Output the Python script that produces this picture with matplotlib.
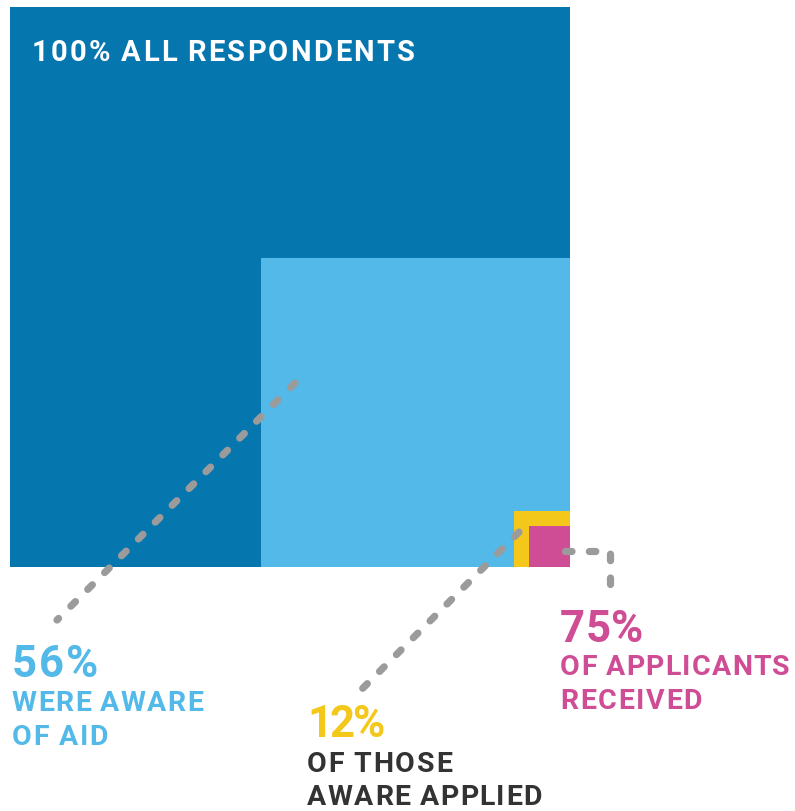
import matplotlib
matplotlib.use("Agg")
import matplotlib.pyplot as plt
from matplotlib.patches import Rectangle

# nested groups, outer to inner
percents = [100, 56, 12, 75]
captions = [["ALL RESPONDENTS"],
            ["WERE AWARE", "OF AID"],
            ["OF THOSE", "AWARE APPLIED"],
            ["OF APPLICANTS", "RECEIVED"]]
# side of each square as a share of the outer one, as drawn in the picture
sides = [1.0, 0.553, 0.101, 0.073]
colors = ["#0676AF", "#52B9E8", "#F4C81B", "#CF4D95"]
text_colors = ["white", "#52B9E8", "#333333", "#CF4D95"]
pct_colors = ["white", "#52B9E8", "#F4C81B", "#CF4D95"]

W, H = 795, 811
S = 560.0              # pixels per unit side
X0, Y0 = 10.3, 567.3   # bottom-left corner of the outer square, in pixels

fig = plt.figure(figsize=(W / 100, H / 100), dpi=100)
ax = fig.add_axes([0, 0, 1, 1])
ax.set_xlim(-X0 / S, (W - X0) / S)
ax.set_ylim(-(H - Y0) / S, Y0 / S)
ax.axis("off")

# squares share the bottom-right corner
for s, c in zip(sides, colors):
    ax.add_patch(Rectangle((1 - s, 0), s, s, facecolor=c, edgecolor="none"))


def p(x, y):
    # pixel position -> data
    return (x - X0) / S, (Y0 - y) / S


# dashed leader lines
leaders = [[(295, 383), (57, 620)],
           [(519, 532), (362, 689)],
           [(565, 551), (610, 551), (610, 588)]]
for pts in leaders:
    xs, ys = zip(*[p(*q) for q in pts])
    ax.plot(xs, ys, color="#9B9B9B", lw=5.2, dashes=(0.9, 2.4),
            dash_capstyle="round", dash_joinstyle="round")

renderer = fig.canvas.get_renderer()
FONT = "Roboto"


def label(x, y, s, size, color, weight, width):
    # letter-spaced text, stretched to the given pixel width
    xd, yd = p(x, y)
    items = []
    for ch in s:
        if ch == " ":
            items.append((None, size * 100 / 72 * 0.22))
            continue
        t = ax.text(xd, yd, ch, fontsize=size, color=color, fontweight=weight,
                    family=FONT, va="baseline", ha="left")
        items.append((t, t.get_window_extent(renderer).width))
    natural = sum(w for _, w in items)
    track = (width - natural) / max(len(items) - 1, 1)
    pos = xd
    for t, w in items:
        if t is not None:
            t.set_x(pos)
        pos += (w + track) / S


# title inside the outer square
label(31.5, 61, f"{percents[0]}% " + captions[0][0], 21, "white", "bold", 383)

# outside labels: x, baseline of percent, percent width, caption baselines, caption widths
spots = [None,
         (12, 677, 86, [711, 745], [191, 96]),
         (307, 737, 78, [772, 805], [145, 235]),
         (560, 642, 83, [675, 709], [230, 142])]
for i in range(1, 4):
    x, yb, pw, cb, cw = spots[i]
    label(x, yb, f"{percents[i]}%", 31.5, pct_colors[i], "bold", pw)
    for line, b, w in zip(captions[i], cb, cw):
        label(x, b, line, 20.5, text_colors[i], "bold", w)

fig.savefig("out.png", dpi=100)
